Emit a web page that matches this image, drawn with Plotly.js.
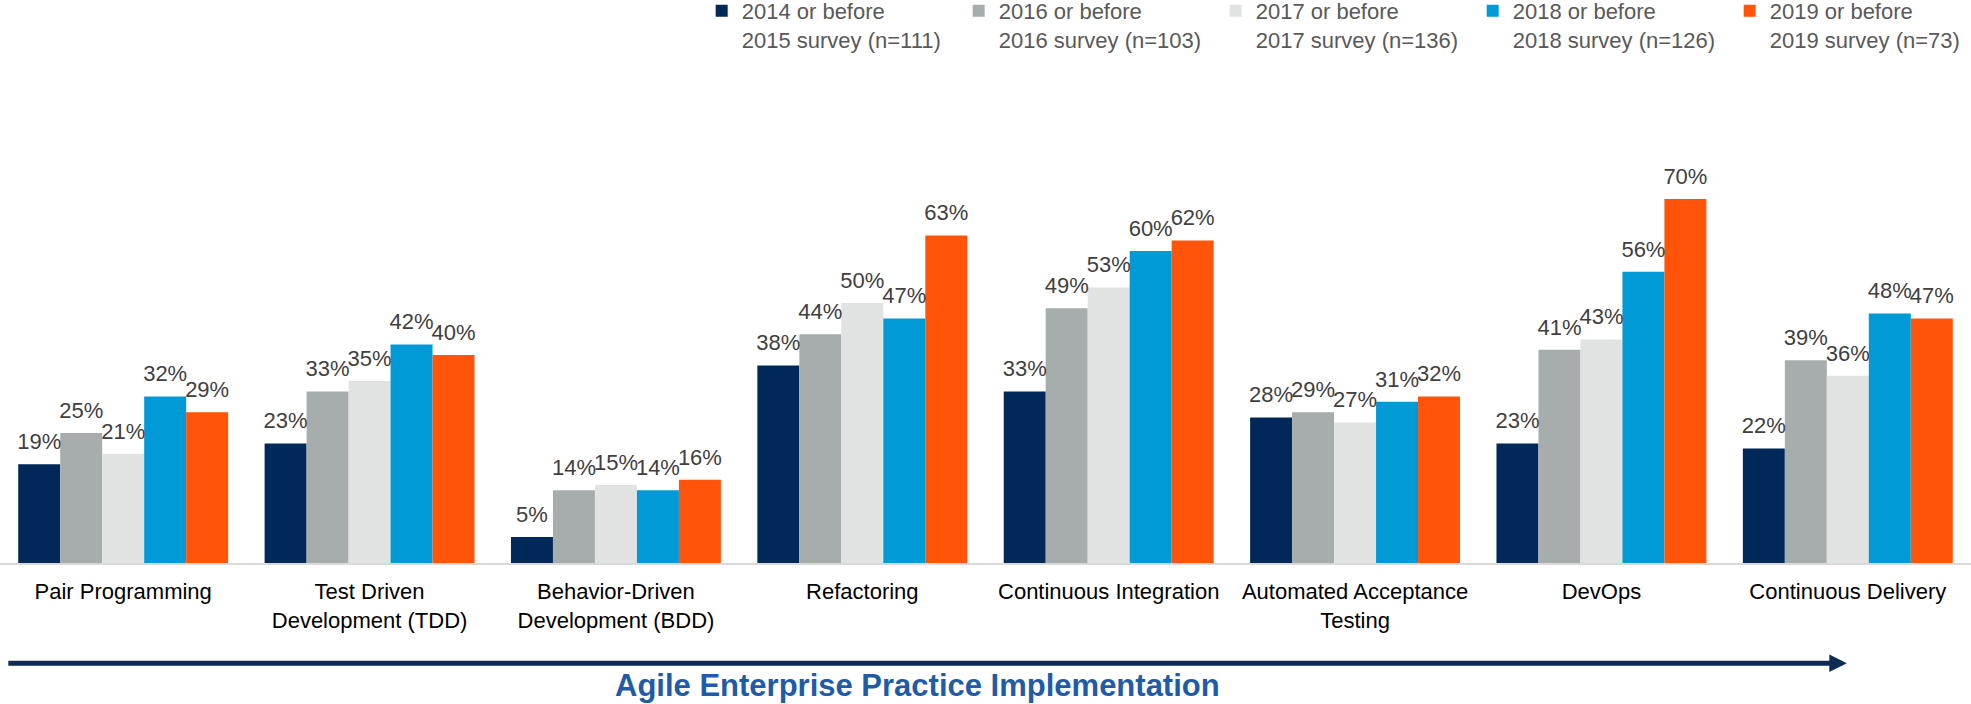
<!DOCTYPE html>
<html>
<head>
<meta charset="utf-8">
<script src="https://cdn.plot.ly/plotly-3.0.1.min.js"></script>
<style>
  html, body { margin: 0; padding: 0; background: #fff; }
  #chart { width: 1971px; height: 704px; }
</style>
</head>
<body>
<div id="chart"></div>
<script>
// practices along the x axis
const practices = [
    'Pair Programming',
    'Test Driven<br>Development (TDD)',
    'Behavior-Driven<br>Development (BDD)',
    'Refactoring',
    'Continuous Integration',
    'Automated Acceptance<br>Testing',
    'DevOps',
    'Continuous Delivery'
];

// survey series (percent of respondents)
const seriesNames = [
    '2014 or before<br>2015 survey (n=111)',
    '2016 or before<br>2016 survey (n=103)',
    '2017 or before<br>2017 survey (n=136)',
    '2018 or before<br>2018 survey (n=126)',
    '2019 or before<br>2019 survey (n=73)'
];
const survey2015 = [19, 23, 5, 38, 33, 28, 23, 22];
const survey2016 = [25, 33, 14, 44, 49, 29, 41, 39];
const survey2017 = [21, 35, 15, 50, 53, 27, 43, 36];
const survey2018 = [32, 42, 14, 47, 60, 31, 56, 48];
const survey2019 = [29, 40, 16, 63, 62, 32, 70, 47];
const seriesValues = [survey2015, survey2016, survey2017, survey2018, survey2019];
const seriesColors = ['#00295a', '#a7adad', '#e1e3e3', '#009ad6', '#ff540a'];

const FONT = 'Arial, "Liberation Sans", sans-serif';
const GAP = 0.148;

const traces = [];
seriesValues.forEach((vals, i) => {
    traces.push({
        type: 'bar',
        x: practices,
        y: vals,
        name: seriesNames[i],
        marker: { color: seriesColors[i], line: { width: 0 } },
        hoverinfo: 'skip'
    });
});
// value labels, grouped the same way as the bars
// (invisible markers only push the text a little higher)
seriesValues.forEach((vals, i) => {
    traces.push({
        type: 'scatter',
        mode: 'markers+text',
        x: practices,
        y: vals,
        text: vals.map(v => v + '%'),
        textposition: 'top center',
        textfont: { family: FONT, size: 22, color: '#404040' },
        marker: { size: 14, opacity: 0 },
        showlegend: false,
        cliponaxis: false,
        hoverinfo: 'skip'
    });
});

const layout = {
    width: 1971,
    height: 704,
    margin: { l: 0, r: 0, t: 43, b: 141, pad: 0, autoexpand: false },
    paper_bgcolor: '#ffffff',
    plot_bgcolor: '#ffffff',
    font: { family: FONT, color: '#000000' },
    barmode: 'group',
    bargap: GAP,
    bargroupgap: 0,
    scattermode: 'group',
    scattergap: GAP,
    showlegend: true,
    legend: {
        orientation: 'h',
        x: 0.356, xanchor: 'left',
        y: 1.102, yanchor: 'top',
        valign: 'top',
        itemwidth: 30,
        entrywidth: 212,
        entrywidthmode: 'pixels',
        font: { family: FONT, size: 22, color: '#595959' },
        bgcolor: 'rgba(0,0,0,0)',
        traceorder: 'normal'
    },
    xaxis: {
        type: 'category',
        automargin: false,
        showgrid: false,
        showline: true,
        linecolor: '#d9d9d9',
        linewidth: 2,
        ticks: '',
        ticklabelstandoff: 8,
        tickfont: { family: FONT, size: 22, color: '#000000' },
        fixedrange: true
    },
    yaxis: {
        range: [0, 100],
        visible: false,
        showgrid: false,
        zeroline: false,
        fixedrange: true
    },
    annotations: [
        {
            xref: 'paper', yref: 'paper',
            x: 0.937, y: -0.193,
            axref: 'pixel', ayref: 'pixel',
            ax: -1840, ay: 0,
            text: '',
            showarrow: true,
            arrowhead: 2,
            arrowsize: 0.7,
            arrowwidth: 5,
            arrowcolor: '#0e2b55'
        },
        {
            xref: 'paper', yref: 'paper',
            x: 0.4655, y: -0.236,
            xanchor: 'center', yanchor: 'middle',
            text: '<b>Agile Enterprise Practice Implementation</b>',
            showarrow: false,
            font: { family: FONT, size: 31, color: '#1f5ba6' }
        }
    ]
};

Plotly.newPlot('chart', traces, layout, { displayModeBar: false, staticPlot: true });
</script>
</body>
</html>
